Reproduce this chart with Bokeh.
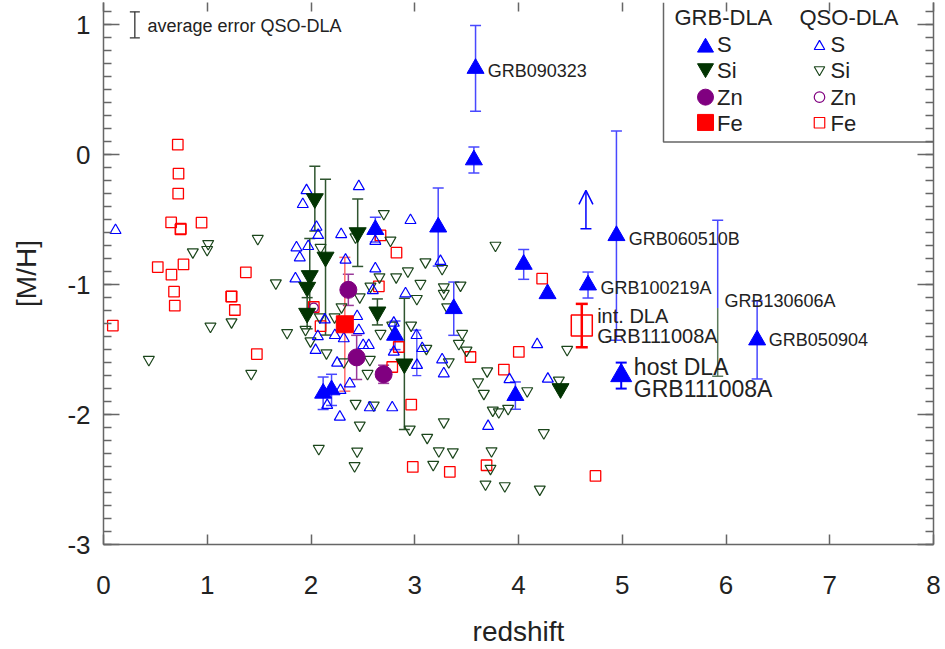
import numpy as np
from bokeh.plotting import figure
from bokeh.models import (Range1d, LinearAxis, SingleIntervalTicker, FixedTicker,
                          ColumnDataSource, Whisker, TeeHead, Arrow, OpenHead, Label)
from bokeh.embed import file_html
from bokeh.resources import INLINE

# ---------------- data ----------------
# GRB-DLA, S (filled blue triangles): redshift, [M/H], error
grb_s_z = [3.586, 3.570, 2.620, 3.226, 3.376, 4.050, 4.280, 4.670, 4.944, 6.300, 2.117, 2.198, 2.810, 3.970]
grb_s_mh = [0.664, -0.040, -0.576, -0.557, -1.185, -0.844, -1.070, -1.003, -0.623, -1.426, -1.836, -1.810, -1.390, -1.854]
grb_s_err = [0.330, 0.100, 0.095, 0.300, 0.205, 0.115, 0.0, 0.100, 0.805, 0.300, 0.125, 0.120, 0.110, 0.105]

# host DLA of GRB111008A (S)
host_z = [4.990]
host_mh = [-1.700]
host_err = [0.100]

# lower limit (S)
lim_z = [4.650]
lim_mh = [-0.570]

# GRB130606A ranges (S upper part, Si lower part)
r130606_z = [5.920]
r130606_s_lo = [-1.180]
r130606_s_hi = [-0.505]
r130606_si_lo = [-1.705]
r130606_si_hi = [-1.180]

# GRB-DLA, Si (filled dark-green down triangles)
grb_si_z = [2.037, 2.140, 2.450, 1.988, 1.963, 1.963, 2.640, 2.900, 4.405]
grb_si_mh = [-0.338, -0.788, -0.600, -0.930, -1.020, -1.220, -1.210, -1.610, -1.800]
grb_si_err = [0.250, 0.600, 0.260, 0.285, 0.0, 0.120, 0.100, 0.505, 0.0]

# GRB-DLA, Zn (filled purple circles)
grb_zn_z = [2.360, 2.440, 2.700]
grb_zn_mh = [-1.040, -1.560, -1.690]
grb_zn_err = [0.120, 0.170, 0.070]

# GRB-DLA, Fe (filled red square)
grb_fe_z = [2.326]
grb_fe_mh = [-1.305]
grb_fe_err = [0.515]

# intervening DLA of GRB111008A (Fe)
int_z = [4.610]
int_mh = [-1.315]
int_err = [0.167]

# QSO-DLA, S (open blue triangles)
qso_s_z = [0.116, 1.957, 1.921, 2.461, 2.053, 2.069, 1.860, 1.973, 1.892, 2.291, 2.959, 3.248,
           2.333, 2.620, 1.850, 2.596, 2.911, 2.620, 2.445, 2.798, 2.133, 2.066, 2.044, 2.230,
           2.316, 2.503, 2.557, 2.252, 2.374, 2.284, 2.156, 2.278, 2.567, 2.783, 2.798, 2.461,
           3.017, 3.072, 3.022, 3.264, 3.280, 3.707, 3.913, 4.180, 4.283]
qso_s_mh = [-0.582, -0.275, -0.382, -0.244, -0.557, -0.620, -0.715, -0.705, -0.792, -0.613, -0.505, -0.820,
            -0.810, -0.877, -0.954, -1.044, -1.069, -0.665, -1.244, -1.295, -1.270, -1.398, -1.505, -1.390,
            -1.415, -1.467, -1.467, -1.603, -1.762, -1.813, -1.928, -2.018, -1.946, -1.946, -1.518, -1.352,
            -1.390, -1.490, -1.620, -1.577, -1.685, -2.090, -1.730, -1.460, -1.726]
# one QSO-DLA S range drawn with an error bar
qso_bar_z = [3.020]
qso_bar_lo = [-1.700]
qso_bar_hi = [-1.350]

# QSO-DLA, Si (open green down triangles)
qso_si_z = [0.861, 1.009, 0.999, 1.487, 1.661, 1.031, 1.234, 0.437, 1.424, 1.770, 2.075, 2.445,
            2.420, 2.470, 2.430, 2.605, 2.545, 2.567, 2.952, 3.120, 3.232, 3.367, 3.178, 3.280,
            2.965, 3.112, 2.670, 2.783, 3.457, 3.425, 3.499, 3.328, 1.947, 1.995, 2.149, 2.316,
            2.702, 2.766, 2.821, 2.660, 2.573, 2.470, 2.092, 2.429, 2.294, 2.085, 2.227, 2.934,
            3.055, 3.103, 3.020, 3.264, 3.280, 3.280, 3.441, 3.312, 3.778, 3.698, 3.611, 3.666,
            3.752, 3.810, 3.900, 3.740, 3.730, 3.682, 3.868, 4.084, 4.469, 4.389, 4.244, 4.205]
qso_si_mh = [-0.749, -0.685, -0.731, -0.646, -0.988, -1.321, -1.288, -1.577, -1.685, -1.370, -2.262, -2.282,
             -2.395, -2.082, -1.915, -1.928, -1.685, -1.577, -2.113, -2.177, -2.280, -2.288, -2.385, -2.057,
             -1.313, -1.492, -1.377, -1.313, -1.377, -1.454, -1.505, -1.595, -1.346, -1.434, -1.526, -1.595,
             -0.454, -0.659, -0.941, -0.941, -1.013, -1.095, -0.715, -0.634, -1.172, -1.249, -1.249, -0.896,
             -0.992, -0.826, -1.108, -0.877, -1.018, -1.069, -1.005, -1.172, -0.698, -1.665, -1.749, -1.838,
             -1.967, -1.980, -1.954, -2.280, -2.415, -2.536, -2.549, -1.818, -1.500, -1.736, -2.141, -2.575]

# QSO-DLA, Zn (open purple circles)
qso_zn_z = [2.027]
qso_zn_mh = [-1.177]

# QSO-DLA, Fe (open red squares)
qso_fe_z = [0.716, 0.723, 0.720, 0.652, 0.742, 0.745, 0.945, 0.523, 0.655, 0.771, 1.372, 0.680,
            0.687, 1.231, 1.235, 1.266, 0.090, 1.478, 2.670, 2.824, 2.654, 2.027, 2.092, 2.846,
            2.783, 2.966, 2.981, 3.338, 3.537, 3.859, 3.692, 4.003, 4.228, 4.742]
qso_fe_mh = [0.077, -0.146, -0.300, -0.521, -0.575, -0.570, -0.523, -0.865, -0.923, -0.844, -0.905, -1.054,
             -1.162, -1.092, -1.090, -1.195, -1.315, -1.534, -0.621, -0.754, -1.013, -1.172, -1.320, -1.480,
             -1.634, -1.923, -2.403, -2.441, -1.557, -1.654, -2.390, -1.518, -0.954, -2.472]

# average QSO-DLA error
avg_err = 0.10

# annotations
grb_names = ["GRB090323", "GRB060510B", "GRB100219A", "GRB130606A", "GRB050904"]
grb_name_z = [3.704, 5.063, 4.790, 5.986, 6.413]
grb_name_mh = [0.643, -0.646, -1.023, -1.128, -1.428]

x_ticks = [0, 1, 2, 3, 4, 5, 6, 7, 8]
y_tick_labels = {1: "1", 0: "0", -1: "-1", -2: "-2", -3: "-3"}

# ---------------- styling ----------------
FONT = "Liberation Sans"
BLUE = "#0000ff"
BLUE_ERR = "#4848ff"
GREEN = "#023402"
GREEN_OPEN = "#1b451b"
GREEN_ERR = "#2f552f"
PURPLE = "#800080"
PURPLE_ERR = "#9a3a9a"
RED = "#ff0000"
RED_ERR = "#ff6a6a"
AXIS = "#666666"
TEXT = "#222222"

Y_TOP = 1.0 + 22.3 / 130.0   # frame top sits 2px below the page top

p = figure(width=945, height=649, x_range=Range1d(0, 8), y_range=Range1d(-3, Y_TOP),
           output_backend="svg", toolbar_location=None,
           min_border_left=103, min_border_right=12, min_border_top=2, min_border_bottom=105)
p.outline_line_color = None
p.grid.visible = False
p.background_fill_color = "white"


def style_axis(ax, ticker, tick_in, minor_in, show_labels):
    ax.ticker = ticker
    ax.axis_line_color = AXIS
    ax.axis_line_width = 1.5
    ax.major_tick_line_color = AXIS
    ax.major_tick_line_width = 1.5
    ax.major_tick_in = tick_in
    ax.major_tick_out = 0
    ax.minor_tick_line_color = AXIS if minor_in else None
    ax.minor_tick_line_width = 1.5
    ax.minor_tick_in = minor_in
    ax.minor_tick_out = 0
    ax.major_label_text_font = FONT
    if show_labels:
        ax.major_label_text_font_size = "26px"
        ax.major_label_text_color = TEXT
    else:
        ax.major_label_text_font_size = "1px"
        ax.major_label_text_color = None
        ax.major_label_standoff = 0


xb = p.xaxis[0]
style_axis(xb, FixedTicker(ticks=x_ticks), 10, 0, True)
xb.major_label_standoff = 31
xb.axis_label = "redshift"
xb.axis_label_text_font = FONT
xb.axis_label_text_font_size = "28px"
xb.axis_label_text_font_style = "normal"
xb.axis_label_text_color = TEXT
xb.axis_label_standoff = 19

yl = p.yaxis[0]
style_axis(yl, SingleIntervalTicker(interval=1, num_minor_ticks=10), 16, 8, True)
yl.major_label_overrides = y_tick_labels
yl.major_label_standoff = 13
yl.axis_label = "[M/H]"
yl.axis_label_text_font = FONT
yl.axis_label_text_font_size = "28px"
yl.axis_label_text_font_style = "normal"
yl.axis_label_text_color = TEXT
yl.axis_label_standoff = 22

xt = LinearAxis()
style_axis(xt, FixedTicker(ticks=x_ticks), 9, 0, False)
xt.axis_line_color = None
p.add_layout(xt, "above")

yr = LinearAxis()
style_axis(yr, SingleIntervalTicker(interval=1, num_minor_ticks=10), 16, 8, False)
p.add_layout(yr, "right")


def errbars(z, v, e, color, width=1.5, head=11):
    z = np.asarray(z, float)
    v = np.asarray(v, float)
    e = np.asarray(e, float)
    m = e > 0
    src = ColumnDataSource(dict(z=z[m], lo=v[m] - e[m], hi=v[m] + e[m]))
    p.add_layout(Whisker(source=src, base="z", lower="lo", upper="hi",
                         line_color=color, line_width=width,
                         upper_head=TeeHead(size=head, line_color=color, line_width=width),
                         lower_head=TeeHead(size=head, line_color=color, line_width=width)))


def rangebar(z, lo, hi, color, top_cap, bottom_cap, width=1.5, head=11):
    src = ColumnDataSource(dict(z=z, lo=lo, hi=hi))
    p.add_layout(Whisker(source=src, base="z", lower="lo", upper="hi",
                         line_color=color, line_width=width,
                         upper_head=TeeHead(size=head, line_color=color, line_width=width) if top_cap else None,
                         lower_head=TeeHead(size=head, line_color=color, line_width=width) if bottom_cap else None))


# ---------------- QSO-DLA (open) ----------------
p.scatter(qso_fe_z, qso_fe_mh, marker="square", size=10.5, fill_color=None, line_color=RED, line_width=1.3)
p.scatter(qso_si_z, qso_si_mh, marker="inverted_triangle", size=11, fill_color=None,
          line_color=GREEN_OPEN, line_width=1.2)
p.scatter(qso_s_z, qso_s_mh, marker="triangle", size=11, fill_color=None, line_color=BLUE, line_width=1.2)
p.scatter(qso_zn_z, qso_zn_mh, marker="circle", size=9, fill_color=None, line_color=PURPLE, line_width=1.2)
rangebar(qso_bar_z, qso_bar_lo, qso_bar_hi, BLUE_ERR, True, True, width=1.3, head=9)

# ---------------- GRB-DLA error bars ----------------
errbars(grb_s_z, grb_s_mh, grb_s_err, BLUE_ERR)
errbars(host_z, host_mh, host_err, BLUE, width=2)
errbars(grb_si_z, grb_si_mh, grb_si_err, GREEN_ERR)
errbars(grb_zn_z, grb_zn_mh, grb_zn_err, PURPLE_ERR)
errbars(grb_fe_z, grb_fe_mh, grb_fe_err, RED_ERR)
errbars(int_z, int_mh, int_err, RED, width=2.5, head=12)
rangebar(r130606_z, r130606_s_lo, r130606_s_hi, BLUE_ERR, True, False)
rangebar(r130606_z, r130606_si_lo, r130606_si_hi, "#5b7a5b", False, True)

# lower limit arrow
for zz, mm in zip(lim_z, lim_mh):
    p.add_layout(Arrow(x_start=zz, y_start=mm, x_end=zz, y_end=mm + 0.295,
                       line_color=BLUE, line_width=1.5,
                       start=TeeHead(size=11, line_color=BLUE, line_width=1.5),
                       end=OpenHead(size=14, line_color=BLUE, line_width=1.5)))

# ---------------- GRB-DLA markers ----------------
p.scatter(grb_fe_z, grb_fe_mh, marker="square", size=17, fill_color=RED, line_color=RED)
p.scatter(int_z, int_mh, marker="square", size=21, fill_color=None, line_color=RED, line_width=1.5)
p.scatter(grb_zn_z, grb_zn_mh, marker="circle", size=17, fill_color=PURPLE, line_color=PURPLE)
p.scatter(grb_si_z, grb_si_mh, marker="inverted_triangle", size=17, fill_color=GREEN, line_color=GREEN)
p.scatter(grb_s_z, grb_s_mh, marker="triangle", size=17, fill_color=BLUE, line_color=BLUE)
p.scatter(host_z, host_mh, marker="triangle", size=21, fill_color=BLUE, line_color=BLUE)

# ---------------- annotations ----------------
for name, zz, mm in zip(grb_names, grb_name_z, grb_name_mh):
    p.add_layout(Label(x=zz, y=mm, text=name, text_font=FONT, text_font_size="18px",
                       text_color=TEXT, text_baseline="middle", text_align="left"))

for txt, yy in [("int. DLA", -1.242), ("GRB111008A", -1.396)]:
    p.add_layout(Label(x=4.758, y=yy, text=txt, text_font=FONT, text_font_size="20px",
                       text_color=TEXT, text_baseline="middle", text_align="left"))
for txt, yy in [("host DLA", -1.634), ("GRB111008A", -1.805)]:
    p.add_layout(Label(x=5.112, y=yy, text=txt, text_font=FONT, text_font_size="23px",
                       text_color=TEXT, text_baseline="middle", text_align="left"))

# average error key
rangebar([0.302], [1.0 - avg_err], [1.0 + avg_err], "#333333", True, True, width=1.3, head=10)
p.add_layout(Label(x=0.424, y=0.992, text="average error QSO-DLA", text_font=FONT,
                   text_font_size="18px", text_color=TEXT, text_baseline="middle", text_align="left"))

# ---------------- legend (drawn by hand, placed in pixel offsets of the frame) ----------------
X0_PX, PX_PER_X, Y1_PX, PX_PER_Y = 103.0, 103.75, 24.3, 130.0


def lx(px):
    return (px - X0_PX) / PX_PER_X


def ly(py):
    return 1.0 - (py - Y1_PX) / PX_PER_Y


p.line([lx(663), lx(663), 8.0], [Y_TOP, ly(141.7), ly(141.7)], line_color=AXIS, line_width=1.5)
for txt, px in [("GRB-DLA", 674), ("QSO-DLA", 799)]:
    p.add_layout(Label(x=lx(px), y=ly(17), text=txt, text_font=FONT, text_font_size="22px",
                       text_color=TEXT, text_baseline="middle", text_align="left"))
rows_text = ["S", "Si", "Zn", "Fe"]
rows_py = [44, 70, 96.7, 122.7]
filled_py = [47, 67.9, 96.7, 122]
open_py = [46, 69.3, 96.7, 122.3]
markers = ["triangle", "inverted_triangle", "circle", "square"]
colors = [BLUE, GREEN, PURPLE, RED]
open_colors = [BLUE, GREEN_OPEN, PURPLE, RED]
for t, ty, fy, oy, mk, c, oc in zip(rows_text, rows_py, filled_py, open_py, markers, colors, open_colors):
    p.scatter([lx(705)], [ly(fy)], marker=mk, size=16, fill_color=c, line_color=c)
    p.scatter([lx(819)], [ly(oy)], marker=mk, size=10.5, fill_color=None, line_color=oc, line_width=1.2)
    p.add_layout(Label(x=lx(716.5), y=ly(ty), text=t, text_font=FONT, text_font_size="22px",
                       text_color=TEXT, text_baseline="middle", text_align="left"))
    p.add_layout(Label(x=lx(830), y=ly(ty), text=t, text_font=FONT, text_font_size="22px",
                       text_color=TEXT, text_baseline="middle", text_align="left"))

open("out.html", "w").write(file_html(p, INLINE))
